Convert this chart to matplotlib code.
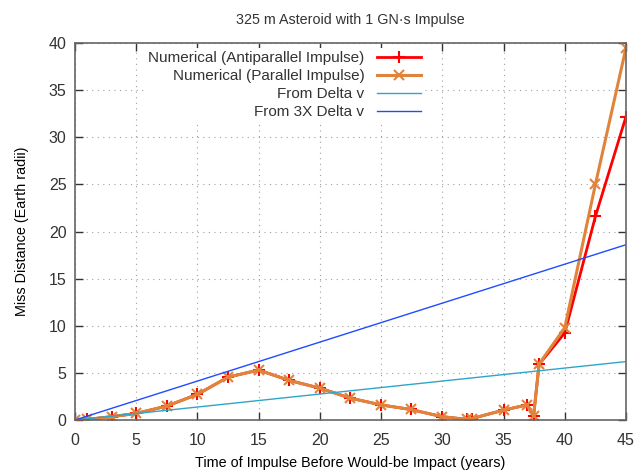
import matplotlib.pyplot as plt

plt.rcParams['font.family'] = ['Liberation Sans', 'DejaVu Sans']
plt.rcParams['font.size'] = 10
plt.rcParams['text.color'] = '#333333'

# time of impulse before impact (years)
years = [0, 1, 3, 5, 7.5, 10, 12.5, 15, 17.5, 20, 22.5, 25, 27.4, 30,
         32, 32.4, 35, 36.9, 37.45, 37.9, 40, 42.5, 45]
# miss distance (Earth radii)
anti = [0, 0.07, 0.35, 0.7, 1.48, 2.72, 4.55, 5.3, 4.2, 3.38, 2.32, 1.6, 1.12, 0.35,
        0.07, 0.15, 1.05, 1.6, 0.42, 5.9, 9.25, 21.6, 32.2]
para = [0, 0.07, 0.35, 0.7, 1.48, 2.72, 4.55, 5.3, 4.2, 3.38, 2.32, 1.6, 1.12, 0.35,
        0.07, 0.15, 1.05, 1.6, 0.42, 5.95, 9.8, 25.0, 39.5]
dv_x = [0, 45]
dv_y = [0, 6.2]
dv3_y = [0, 18.6]

fig = plt.figure(figsize=(6.43, 4.74), dpi=100)
ax = fig.add_axes([0.1166, 0.1139, 0.857, 0.7954])

ax.plot(years, anti, color='#ff0000', lw=2, marker='+', ms=8, mew=1.5,
        label='Numerical (Antiparallel Impulse)')
ax.plot(years, para, color='#e0843c', lw=2.2, marker='x', ms=7, mew=1.5,
        label='Numerical (Parallel Impulse)')
ax.plot(dv_x, dv_y, color='#2ea6c8', lw=1, label='From Delta v')
ax.plot(dv_x, dv3_y, color='#1f4cff', lw=1, label='From 3X Delta v')

ax.set_xlim(0, 45)
ax.set_ylim(0, 40)
ax.set_xticks(range(0, 46, 5))
ax.set_yticks(range(0, 41, 5))
ax.grid(True, color='#a0a0a0', ls=(0, (1, 4)), lw=0.8)
ax.tick_params(direction='in', top=True, right=True, length=6, width=1,
               colors='#333333', labelcolor='#333333', labelsize=11.5, pad=6)
ax.tick_params(axis='x', pad=9)
for s in ax.spines.values():
    s.set_color('#666666')
    s.set_linewidth(1.2)

ax.set_title('325 m Asteroid with 1 GN\u00b7s Impulse', fontsize=10.3, pad=14)
ax.set_xlabel('Time of Impulse Before Would-be Impact (years)', fontsize=10.4,
              labelpad=6)
ax.set_ylabel('Miss Distance (Earth radii)', fontsize=10.4, labelpad=14)

leg = ax.legend(loc='upper right', bbox_to_anchor=(0.643, 1.0), markerfirst=False,
                frameon=True, facecolor='white', edgecolor='none', framealpha=1,
                fancybox=False, fontsize=11, handlelength=2.9,
                labelspacing=0.25, borderaxespad=0.35, borderpad=0.2,
                handletextpad=0.8)

fig.savefig('out.png', dpi=100)
